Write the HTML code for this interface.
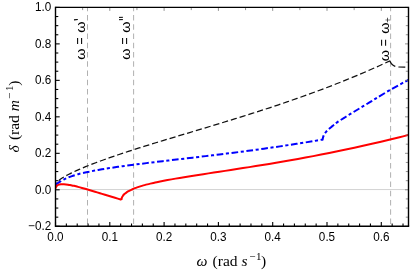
<!DOCTYPE html>
<html><head><meta charset="utf-8"><title>plot</title>
<style>
html,body{margin:0;padding:0;background:#fff;}
svg{display:block;will-change:transform;}
text{font-family:"Liberation Sans",sans-serif;fill:#000;}
.ser{font-family:"Liberation Serif",serif;}
</style></head><body>
<svg width="414" height="273" viewBox="0 0 414 273">
<rect x="0" y="0" width="414" height="273" fill="#fff"/>
<defs><clipPath id="cp"><rect x="55.50" y="7.40" width="353.00" height="218.90"/></clipPath></defs>

<g stroke="#a8a8a8" stroke-width="0.9" fill="none">
<line x1="55.50" y1="189.55" x2="408.50" y2="189.55" stroke="#c8c8c8" stroke-width="0.8"/>
<line x1="87.50" y1="7.40" x2="87.50" y2="226.30" stroke-dasharray="5.5 3.75" stroke-dashoffset="1.65"/>
<line x1="133.60" y1="7.40" x2="133.60" y2="226.30" stroke-dasharray="5.5 3.75" stroke-dashoffset="1.65"/>
<line x1="390.60" y1="7.40" x2="390.60" y2="226.30" stroke-dasharray="5.5 3.75" stroke-dashoffset="1.65"/>
</g>
<g clip-path="url(#cp)" fill="none" stroke-linejoin="round">
<path d="M55.50 185.30 C55.52 185.18 55.53 184.84 55.59 184.60 C55.65 184.35 55.75 184.11 55.87 183.85 C56.00 183.60 56.15 183.33 56.34 183.07 C56.52 182.80 56.74 182.52 56.99 182.24 C57.23 181.96 57.51 181.67 57.82 181.38 C58.13 181.08 58.47 180.78 58.84 180.48 C59.22 180.17 59.62 179.85 60.05 179.53 C60.49 179.21 60.95 178.89 61.44 178.55 C61.94 178.22 62.47 177.88 63.02 177.53 C63.58 177.19 64.17 176.83 64.79 176.48 C65.41 176.12 66.06 175.75 66.74 175.38 C67.42 175.01 68.13 174.63 68.88 174.25 C69.62 173.86 70.39 173.48 71.20 173.08 C72.00 172.68 72.84 172.28 73.71 171.88 C74.57 171.47 75.47 171.05 76.40 170.63 C77.33 170.22 78.29 169.79 79.28 169.36 C80.27 168.93 81.29 168.49 82.34 168.05 C83.40 167.61 84.48 167.16 85.60 166.70 C86.71 166.25 87.86 165.79 89.03 165.33 C90.21 164.86 91.42 164.39 92.66 163.91 C93.89 163.44 95.16 162.96 96.46 162.47 C97.76 161.98 99.10 161.49 100.46 160.99 C101.82 160.49 103.21 159.99 104.64 159.48 C106.06 158.97 107.52 158.46 109.00 157.94 C110.49 157.42 112.01 156.89 113.56 156.36 C115.10 155.83 116.68 155.29 118.29 154.75 C119.90 154.21 121.54 153.66 123.22 153.11 C124.89 152.56 126.59 152.00 128.32 151.43 C130.06 150.87 131.82 150.30 133.62 149.72 C135.42 149.15 137.24 148.56 139.10 147.97 C140.96 147.39 142.85 146.79 144.77 146.19 C146.69 145.59 148.64 144.98 150.62 144.37 C152.60 143.76 154.61 143.14 156.66 142.51 C158.70 141.88 160.77 141.25 162.88 140.61 C164.99 139.97 167.12 139.32 169.29 138.66 C171.46 138.01 173.65 137.34 175.88 136.67 C178.11 136.00 180.37 135.32 182.66 134.63 C184.96 133.94 187.28 133.25 189.63 132.54 C191.98 131.83 194.37 131.12 196.78 130.39 C199.20 129.67 201.65 128.93 204.12 128.19 C206.60 127.44 209.11 126.69 211.65 125.92 C214.19 125.15 216.76 124.37 219.36 123.58 C221.96 122.79 224.59 121.99 227.25 121.17 C229.91 120.35 232.61 119.52 235.33 118.68 C238.06 117.83 240.81 116.98 243.60 116.10 C246.39 115.23 249.20 114.34 252.05 113.43 C254.90 112.53 257.78 111.60 260.69 110.66 C263.60 109.72 266.54 108.77 269.52 107.79 C272.49 106.81 275.49 105.81 278.53 104.79 C281.56 103.77 284.63 102.73 287.72 101.67 C290.82 100.61 293.95 99.52 297.10 98.41 C300.26 97.30 303.45 96.17 306.67 95.01 C309.89 93.85 313.14 92.66 316.42 91.45 C319.71 90.23 323.02 88.99 326.36 87.71 C329.71 86.44 333.08 85.13 336.49 83.79 C339.89 82.45 343.33 81.08 346.80 79.67 C350.27 78.27 353.77 76.83 357.30 75.34 C360.83 73.86 364.39 72.34 367.98 70.78 C371.57 69.22 375.19 67.62 378.85 65.97 C382.50 64.33 388.06 61.74 389.90 60.90" stroke="#111" stroke-width="1.25" stroke-dasharray="6.2 2.95" stroke-dashoffset="-5.85"/>
<path d="M389.90 60.85 C390.03 61.14 390.32 61.99 390.70 62.60 C391.08 63.21 391.70 64.00 392.20 64.50 C392.70 65.00 393.18 65.28 393.70 65.60 C394.22 65.92 394.52 66.17 395.30 66.40 C396.08 66.63 396.73 66.88 398.40 67.00 C400.07 67.12 403.62 67.10 405.30 67.10 C406.98 67.10 407.97 67.02 408.50 67.00" stroke="#111" stroke-width="1.25" stroke-dasharray="8 3.15 6.9 3"/>
<path d="M55.50 184.60 C55.63 184.52 55.80 184.42 56.30 184.10 C56.80 183.78 57.63 183.25 58.50 182.70 C59.37 182.15 60.42 181.44 61.50 180.80 C62.58 180.16 63.83 179.43 65.00 178.85 C66.17 178.27 67.28 177.78 68.50 177.30 C69.72 176.83 70.57 176.56 72.30 176.00 C74.03 175.44 76.75 174.52 78.90 173.95 C81.05 173.38 83.62 172.90 85.18 172.56 C86.73 172.21 87.18 172.12 88.22 171.90 C89.26 171.68 90.32 171.46 91.41 171.25 C92.50 171.03 93.61 170.82 94.75 170.60 C95.89 170.39 97.05 170.18 98.24 169.97 C99.42 169.76 100.63 169.55 101.87 169.34 C103.11 169.13 104.37 168.92 105.66 168.71 C106.94 168.50 108.25 168.29 109.59 168.09 C110.92 167.88 112.28 167.67 113.67 167.47 C115.05 167.26 116.46 167.05 117.90 166.85 C119.33 166.64 120.79 166.44 122.28 166.23 C123.76 166.03 125.27 165.82 126.80 165.61 C128.33 165.41 129.89 165.20 131.48 165.00 C133.06 164.79 134.67 164.58 136.30 164.37 C137.93 164.17 139.59 163.96 141.27 163.75 C142.95 163.54 144.66 163.33 146.39 163.12 C148.12 162.91 149.88 162.69 151.66 162.48 C153.44 162.27 155.24 162.05 157.07 161.83 C158.90 161.62 160.76 161.40 162.64 161.18 C164.52 160.95 166.42 160.73 168.35 160.51 C170.28 160.28 172.23 160.05 174.21 159.82 C176.19 159.59 178.19 159.36 180.22 159.13 C182.25 158.89 184.30 158.65 186.38 158.41 C188.46 158.17 190.56 157.92 192.69 157.67 C194.81 157.42 196.96 157.17 199.14 156.91 C201.32 156.66 203.52 156.40 205.74 156.13 C207.97 155.86 210.22 155.59 212.50 155.32 C214.77 155.05 217.07 154.77 219.40 154.48 C221.72 154.20 224.07 153.91 226.44 153.61 C228.82 153.31 231.22 153.01 233.64 152.70 C236.06 152.39 238.51 152.08 240.99 151.76 C243.46 151.44 245.96 151.11 248.48 150.78 C251.00 150.44 253.55 150.10 256.12 149.75 C258.69 149.40 261.29 149.04 263.91 148.67 C266.53 148.31 269.18 147.93 271.85 147.55 C274.52 147.16 277.22 146.77 279.94 146.37 C282.66 145.97 285.40 145.56 288.17 145.13 C290.94 144.71 293.74 144.28 296.56 143.84 C299.38 143.39 302.22 142.94 305.09 142.48 C307.96 142.01 310.85 141.53 313.77 141.05 C316.69 140.56 321.13 139.79 322.60 139.54 L322.60 139.70 C322.67 139.33 322.82 138.20 323.00 137.50 C323.18 136.80 323.42 136.15 323.70 135.50 C323.98 134.85 324.30 134.22 324.70 133.60 C325.10 132.98 325.62 132.37 326.10 131.80 C326.58 131.23 327.08 130.70 327.60 130.20 C328.12 129.70 328.57 129.35 329.20 128.80 C329.83 128.25 330.60 127.58 331.40 126.90 C332.20 126.22 332.98 125.50 334.00 124.70 C335.02 123.90 335.88 123.20 337.50 122.10 C339.12 121.00 341.67 119.42 343.75 118.10 C345.83 116.78 347.81 115.55 350.00 114.20 C352.19 112.85 354.70 111.33 356.90 110.00 C359.10 108.67 361.10 107.47 363.20 106.20 C365.30 104.93 367.37 103.70 369.50 102.40 C371.63 101.10 372.48 100.52 376.00 98.40 C379.52 96.28 385.18 92.80 390.60 89.70 C396.02 86.60 405.52 81.45 408.50 79.80" stroke="#0000ff" stroke-width="2.0" stroke-dasharray="6.7 2.6 3.1 2.6"/>
<path d="M55.50 188.60 C55.55 188.40 55.65 187.78 55.80 187.40 C55.95 187.02 56.15 186.63 56.40 186.30 C56.65 185.97 56.87 185.68 57.30 185.40 C57.73 185.12 58.38 184.83 59.00 184.65 C59.62 184.47 60.42 184.38 61.00 184.30 C61.58 184.23 62.00 184.21 62.50 184.20 C63.00 184.19 63.42 184.21 64.00 184.24 C64.58 184.27 65.33 184.33 66.00 184.40 C66.67 184.47 67.33 184.57 68.00 184.67 C68.67 184.77 69.33 184.88 70.00 185.01 C70.67 185.13 71.33 185.26 72.00 185.41 C72.67 185.55 73.33 185.70 74.00 185.85 C74.67 186.01 75.33 186.17 76.00 186.34 C76.67 186.50 77.33 186.67 78.00 186.85 C78.67 187.02 79.17 187.15 80.00 187.38 C80.83 187.61 82.00 187.93 83.00 188.21 C84.00 188.50 84.83 188.73 86.00 189.07 C87.17 189.41 88.50 189.80 90.00 190.25 C91.50 190.69 93.33 191.24 95.00 191.74 C96.67 192.24 98.33 192.74 100.00 193.25 C101.67 193.75 103.33 194.26 105.00 194.77 C106.67 195.28 108.33 195.78 110.00 196.29 C111.67 196.80 113.08 197.23 115.00 197.82 C116.92 198.41 120.42 199.48 121.50 199.81 L121.50 199.90 C121.51 199.73 121.53 199.22 121.58 198.88 C121.63 198.55 121.71 198.22 121.82 197.89 C121.93 197.56 122.06 197.23 122.22 196.91 C122.38 196.59 122.56 196.27 122.78 195.96 C122.99 195.64 123.23 195.33 123.50 195.02 C123.76 194.71 124.06 194.40 124.38 194.10 C124.69 193.80 125.04 193.50 125.41 193.20 C125.79 192.91 126.19 192.61 126.61 192.32 C127.04 192.03 127.49 191.75 127.97 191.46 C128.45 191.18 128.95 190.90 129.49 190.62 C130.02 190.34 130.58 190.06 131.16 189.79 C131.75 189.51 132.36 189.24 133.00 188.98 C133.64 188.71 134.30 188.44 135.00 188.18 C135.69 187.91 136.41 187.65 137.15 187.39 C137.90 187.14 138.67 186.88 139.47 186.62 C140.27 186.37 141.09 186.12 141.94 185.86 C142.80 185.61 143.67 185.36 144.58 185.12 C145.48 184.87 146.42 184.62 147.38 184.38 C148.33 184.13 149.32 183.89 150.33 183.65 C151.34 183.41 152.38 183.16 153.44 182.92 C154.51 182.68 155.60 182.44 156.72 182.21 C157.84 181.97 158.98 181.73 160.15 181.49 C161.32 181.25 162.52 181.02 163.75 180.78 C164.97 180.54 166.22 180.31 167.50 180.07 C168.78 179.83 170.08 179.59 171.41 179.36 C172.74 179.12 174.10 178.88 175.49 178.64 C176.87 178.40 178.28 178.16 179.72 177.92 C181.16 177.68 182.62 177.44 184.11 177.19 C185.60 176.95 187.12 176.70 188.66 176.46 C190.21 176.21 191.78 175.96 193.38 175.71 C194.97 175.46 196.60 175.20 198.25 174.95 C199.90 174.69 201.57 174.43 203.28 174.17 C204.98 173.91 206.71 173.65 208.47 173.38 C210.23 173.11 212.01 172.84 213.82 172.57 C215.63 172.29 217.47 172.01 219.33 171.73 C221.19 171.45 223.08 171.16 225.00 170.87 C226.92 170.58 228.86 170.28 230.83 169.98 C232.80 169.68 234.80 169.37 236.82 169.06 C238.84 168.75 240.89 168.43 242.97 168.11 C245.05 167.78 247.15 167.46 249.28 167.12 C251.41 166.78 253.56 166.44 255.75 166.09 C257.93 165.74 260.14 165.39 262.38 165.02 C264.61 164.66 266.87 164.29 269.16 163.91 C271.45 163.53 273.77 163.14 276.11 162.75 C278.45 162.35 280.82 161.95 283.22 161.54 C285.61 161.12 288.04 160.70 290.49 160.27 C292.94 159.84 295.41 159.40 297.91 158.94 C300.42 158.49 302.94 158.03 305.50 157.56 C308.06 157.08 310.64 156.60 313.25 156.11 C315.86 155.61 318.49 155.11 321.15 154.59 C323.81 154.07 326.50 153.54 329.22 153.00 C331.93 152.46 334.68 151.90 337.44 151.33 C340.21 150.77 343.01 150.19 345.83 149.59 C348.65 148.99 351.50 148.39 354.38 147.76 C357.25 147.14 360.15 146.50 363.08 145.85 C366.01 145.20 368.96 144.53 371.94 143.85 C374.93 143.16 377.93 142.46 380.97 141.75 C384.00 141.03 387.06 140.30 390.15 139.55 C393.24 138.80 396.36 138.04 399.50 137.25 C402.64 136.47 407.42 135.25 409.00 134.84" stroke="#ff0000" stroke-width="2.0" stroke-linejoin="miter" stroke-miterlimit="10"/>
</g>
<g stroke="#000" stroke-width="1.1"><line x1="55.50" y1="226.28" x2="59.70" y2="226.28"/><line x1="55.50" y1="217.16" x2="58.30" y2="217.16"/><line x1="55.50" y1="208.04" x2="58.30" y2="208.04"/><line x1="55.50" y1="198.92" x2="58.30" y2="198.92"/><line x1="55.50" y1="189.80" x2="59.70" y2="189.80"/><line x1="55.50" y1="180.68" x2="58.30" y2="180.68"/><line x1="55.50" y1="171.56" x2="58.30" y2="171.56"/><line x1="55.50" y1="162.44" x2="58.30" y2="162.44"/><line x1="55.50" y1="153.32" x2="59.70" y2="153.32"/><line x1="55.50" y1="144.20" x2="58.30" y2="144.20"/><line x1="55.50" y1="135.08" x2="58.30" y2="135.08"/><line x1="55.50" y1="125.96" x2="58.30" y2="125.96"/><line x1="55.50" y1="116.84" x2="59.70" y2="116.84"/><line x1="55.50" y1="107.72" x2="58.30" y2="107.72"/><line x1="55.50" y1="98.60" x2="58.30" y2="98.60"/><line x1="55.50" y1="89.48" x2="58.30" y2="89.48"/><line x1="55.50" y1="80.36" x2="59.70" y2="80.36"/><line x1="55.50" y1="71.24" x2="58.30" y2="71.24"/><line x1="55.50" y1="62.12" x2="58.30" y2="62.12"/><line x1="55.50" y1="53.00" x2="58.30" y2="53.00"/><line x1="55.50" y1="43.88" x2="59.70" y2="43.88"/><line x1="55.50" y1="34.76" x2="58.30" y2="34.76"/><line x1="55.50" y1="25.64" x2="58.30" y2="25.64"/><line x1="55.50" y1="16.52" x2="58.30" y2="16.52"/><line x1="55.50" y1="7.40" x2="59.70" y2="7.40"/><line x1="55.50" y1="226.30" x2="55.50" y2="222.10"/><line x1="66.36" y1="226.30" x2="66.36" y2="223.50"/><line x1="77.22" y1="226.30" x2="77.22" y2="223.50"/><line x1="88.08" y1="226.30" x2="88.08" y2="223.50"/><line x1="98.94" y1="226.30" x2="98.94" y2="223.50"/><line x1="109.80" y1="226.30" x2="109.80" y2="222.10"/><line x1="120.66" y1="226.30" x2="120.66" y2="223.50"/><line x1="131.52" y1="226.30" x2="131.52" y2="223.50"/><line x1="142.38" y1="226.30" x2="142.38" y2="223.50"/><line x1="153.24" y1="226.30" x2="153.24" y2="223.50"/><line x1="164.10" y1="226.30" x2="164.10" y2="222.10"/><line x1="174.96" y1="226.30" x2="174.96" y2="223.50"/><line x1="185.82" y1="226.30" x2="185.82" y2="223.50"/><line x1="196.68" y1="226.30" x2="196.68" y2="223.50"/><line x1="207.54" y1="226.30" x2="207.54" y2="223.50"/><line x1="218.40" y1="226.30" x2="218.40" y2="222.10"/><line x1="229.26" y1="226.30" x2="229.26" y2="223.50"/><line x1="240.12" y1="226.30" x2="240.12" y2="223.50"/><line x1="250.98" y1="226.30" x2="250.98" y2="223.50"/><line x1="261.84" y1="226.30" x2="261.84" y2="223.50"/><line x1="272.70" y1="226.30" x2="272.70" y2="222.10"/><line x1="283.56" y1="226.30" x2="283.56" y2="223.50"/><line x1="294.42" y1="226.30" x2="294.42" y2="223.50"/><line x1="305.28" y1="226.30" x2="305.28" y2="223.50"/><line x1="316.14" y1="226.30" x2="316.14" y2="223.50"/><line x1="327.00" y1="226.30" x2="327.00" y2="222.10"/><line x1="337.86" y1="226.30" x2="337.86" y2="223.50"/><line x1="348.72" y1="226.30" x2="348.72" y2="223.50"/><line x1="359.58" y1="226.30" x2="359.58" y2="223.50"/><line x1="370.44" y1="226.30" x2="370.44" y2="223.50"/><line x1="381.30" y1="226.30" x2="381.30" y2="222.10"/><line x1="392.16" y1="226.30" x2="392.16" y2="223.50"/><line x1="403.02" y1="226.30" x2="403.02" y2="223.50"/></g>
<g stroke="#777" stroke-width="0.8"><line x1="408.50" y1="226.28" x2="405.00" y2="226.28"/><line x1="408.50" y1="217.16" x2="405.80" y2="217.16"/><line x1="408.50" y1="208.04" x2="405.80" y2="208.04"/><line x1="408.50" y1="198.92" x2="405.80" y2="198.92"/><line x1="408.50" y1="189.80" x2="405.00" y2="189.80"/><line x1="408.50" y1="180.68" x2="405.80" y2="180.68"/><line x1="408.50" y1="171.56" x2="405.80" y2="171.56"/><line x1="408.50" y1="162.44" x2="405.80" y2="162.44"/><line x1="408.50" y1="153.32" x2="405.00" y2="153.32"/><line x1="408.50" y1="144.20" x2="405.80" y2="144.20"/><line x1="408.50" y1="135.08" x2="405.80" y2="135.08"/><line x1="408.50" y1="125.96" x2="405.80" y2="125.96"/><line x1="408.50" y1="116.84" x2="405.00" y2="116.84"/><line x1="408.50" y1="107.72" x2="405.80" y2="107.72"/><line x1="408.50" y1="98.60" x2="405.80" y2="98.60"/><line x1="408.50" y1="89.48" x2="405.80" y2="89.48"/><line x1="408.50" y1="80.36" x2="405.00" y2="80.36"/><line x1="408.50" y1="71.24" x2="405.80" y2="71.24"/><line x1="408.50" y1="62.12" x2="405.80" y2="62.12"/><line x1="408.50" y1="53.00" x2="405.80" y2="53.00"/><line x1="408.50" y1="43.88" x2="405.00" y2="43.88"/><line x1="408.50" y1="34.76" x2="405.80" y2="34.76"/><line x1="408.50" y1="25.64" x2="405.80" y2="25.64"/><line x1="408.50" y1="16.52" x2="405.80" y2="16.52"/><line x1="408.50" y1="7.40" x2="405.00" y2="7.40"/><line x1="55.50" y1="7.40" x2="55.50" y2="10.90"/><line x1="82.65" y1="7.40" x2="82.65" y2="10.10"/><line x1="109.80" y1="7.40" x2="109.80" y2="10.90"/><line x1="136.95" y1="7.40" x2="136.95" y2="10.10"/><line x1="164.10" y1="7.40" x2="164.10" y2="10.90"/><line x1="191.25" y1="7.40" x2="191.25" y2="10.10"/><line x1="218.40" y1="7.40" x2="218.40" y2="10.90"/><line x1="245.55" y1="7.40" x2="245.55" y2="10.10"/><line x1="272.70" y1="7.40" x2="272.70" y2="10.90"/><line x1="299.85" y1="7.40" x2="299.85" y2="10.10"/><line x1="327.00" y1="7.40" x2="327.00" y2="10.90"/><line x1="354.15" y1="7.40" x2="354.15" y2="10.10"/><line x1="381.30" y1="7.40" x2="381.30" y2="10.90"/><line x1="408.45" y1="7.40" x2="408.45" y2="10.10"/></g>
<path d="M55.50 7.40 H408.50 V226.30" fill="none" stroke="#000" stroke-width="1.4"/>
<path d="M55.50 7.40 V226.30 H408.50" fill="none" stroke="#000" stroke-width="1.4" stroke-linecap="square"/>
<text transform="translate(51.2 11.10) scale(0.96 1)" font-size="12.2" text-anchor="end">1.0</text>
<text transform="translate(51.2 47.58) scale(0.96 1)" font-size="12.2" text-anchor="end">0.8</text>
<text transform="translate(51.2 84.06) scale(0.96 1)" font-size="12.2" text-anchor="end">0.6</text>
<text transform="translate(51.2 120.54) scale(0.96 1)" font-size="12.2" text-anchor="end">0.4</text>
<text transform="translate(51.2 157.02) scale(0.96 1)" font-size="12.2" text-anchor="end">0.2</text>
<text transform="translate(51.2 193.50) scale(0.96 1)" font-size="12.2" text-anchor="end">0.0</text>
<text transform="translate(51.2 229.98) scale(0.96 1)" font-size="12.2" text-anchor="end">−0.2</text>
<text transform="translate(55.50 240.9) scale(0.96 1)" font-size="12.2" text-anchor="middle">0.0</text>
<text transform="translate(109.80 240.9) scale(0.96 1)" font-size="12.2" text-anchor="middle">0.1</text>
<text transform="translate(164.10 240.9) scale(0.96 1)" font-size="12.2" text-anchor="middle">0.2</text>
<text transform="translate(218.40 240.9) scale(0.96 1)" font-size="12.2" text-anchor="middle">0.3</text>
<text transform="translate(272.70 240.9) scale(0.96 1)" font-size="12.2" text-anchor="middle">0.4</text>
<text transform="translate(327.00 240.9) scale(0.96 1)" font-size="12.2" text-anchor="middle">0.5</text>
<text transform="translate(381.30 240.9) scale(0.96 1)" font-size="12.2" text-anchor="middle">0.6</text>
<text class="ser" x="196.50" y="266.40" font-size="15.5" font-style="italic">ω</text>
<text class="ser" x="212.60" y="266.40" font-size="15.5">(rad</text>
<text class="ser" x="241.50" y="266.40" font-size="15.5" font-style="italic">s</text>
<text class="ser" x="249.20" y="260.10" font-size="11">−</text>
<text class="ser" x="256.00" y="260.10" font-size="11">1</text>
<text class="ser" x="261.00" y="266.40" font-size="15.5">)</text>
<text class="ser" transform="translate(19.00 152.50) rotate(-90)" font-size="15.5" font-style="italic">δ</text>
<text class="ser" transform="translate(19.00 140.10) rotate(-90)" font-size="15.5">(rad</text>
<text class="ser" transform="translate(19.00 111.20) rotate(-90)" font-size="15.5" font-style="italic">m</text>
<text class="ser" transform="translate(12.70 98.90) rotate(-90)" font-size="11">−</text>
<text class="ser" transform="translate(12.70 91.00) rotate(-90)" font-size="11">1</text>
<text class="ser" transform="translate(19.00 85.70) rotate(-90)" font-size="15.5">)</text>
<text transform="translate(85.20 54.05) rotate(-90) scale(1.080 1)" font-size="13.3" text-anchor="middle">ω</text>
<text transform="translate(85.20 41.05) rotate(-90) scale(0.860 1)" font-size="14" text-anchor="middle">=</text>
<text transform="translate(85.20 27.15) rotate(-90) scale(1.080 1)" font-size="13.3" text-anchor="middle">ω</text>
<line x1="74.0" y1="19.9" x2="77.8" y2="19.5" stroke="#000" stroke-width="1.1"/>
<text transform="translate(129.90 54.05) rotate(-90) scale(1.080 1)" font-size="13.3" text-anchor="middle">ω</text>
<text transform="translate(129.90 41.05) rotate(-90) scale(0.860 1)" font-size="14" text-anchor="middle">=</text>
<text transform="translate(129.90 27.15) rotate(-90) scale(1.080 1)" font-size="13.3" text-anchor="middle">ω</text>
<line x1="119.0" y1="19.7" x2="122.9" y2="19.6" stroke="#000" stroke-width="1.0"/>
<line x1="119.0" y1="17.4" x2="122.9" y2="17.3" stroke="#000" stroke-width="1.0"/>
<text transform="translate(388.50 55.65) rotate(-90) scale(1.080 1)" font-size="13.3" text-anchor="middle">ω</text>
<text transform="translate(388.50 42.65) rotate(-90) scale(0.860 1)" font-size="14" text-anchor="middle">=</text>
<text transform="translate(388.50 28.20) rotate(-90) scale(1.080 1)" font-size="13.3" text-anchor="middle">ω</text>
<text transform="translate(391.40 20.00) rotate(-90) scale(1.000 1)" font-size="9.5" text-anchor="middle">+</text>
</svg></body></html>
